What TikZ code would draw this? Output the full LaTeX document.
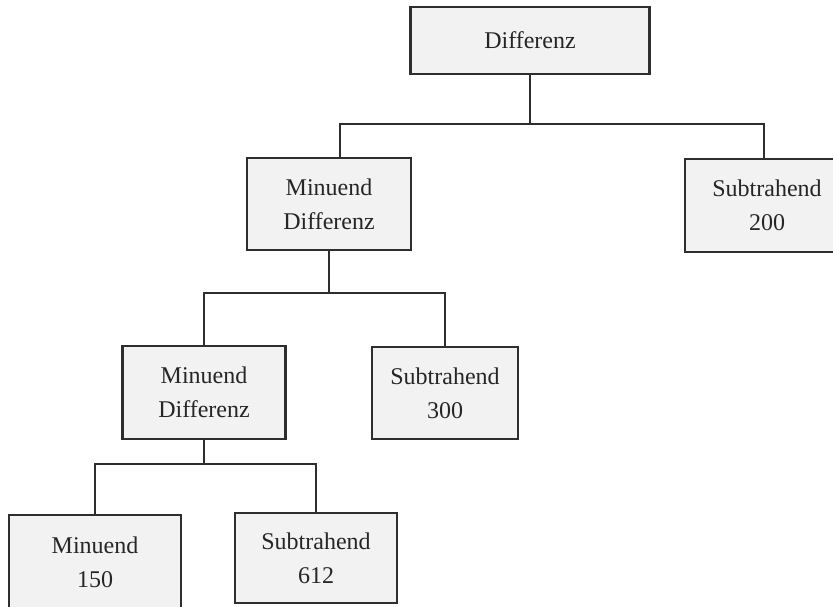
\documentclass[tikz,border=0pt]{standalone}
\usepackage{fontspec}
\setmainfont{Liberation Serif}
\begin{document}
\begin{tikzpicture}[x=0.75pt,y=-0.75pt,
  box/.style={draw=black!82, line width=1.6pt, fill=black!5, align=center,
    inner sep=0pt, text=black!85, font=\fontsize{18}{25.5}\selectfont},
  conn/.style={draw=black!82, line width=1.6pt}]
\useasboundingbox (0,0) rectangle (833,607);
\clip (0,0) rectangle (833,607);

% tree nodes
\node[box, minimum width=179.25pt, minimum height=50.25pt] (A) at (530,40.5) {Differenz};
\node[box, minimum width=123pt, minimum height=69pt] (B) at (329,204) {Minuend\\Differenz};
\node[box, minimum width=123pt, minimum height=69.75pt] (C) at (767,205.5) {Subtrahend\\200};
\node[box, minimum width=122.25pt, minimum height=69.75pt] (D) at (204,392.5) {Minuend\\Differenz};
\node[box, minimum width=109.5pt, minimum height=69pt] (E) at (445,393) {Subtrahend\\300};
\node[box, minimum width=129pt, minimum height=70.5pt] (F) at (95,562) {Minuend\\150};
\node[box, minimum width=121.5pt, minimum height=67.5pt] (G) at (316,558) {Subtrahend\\612};

% connectors: one stem per parent, then a bar with drops to the children
\draw[conn] (A.south) -- ++(0,49) coordinate (ja);
\draw[conn] ([xshift=8.25pt]B.north) |- (ja) -| ([xshift=-2.25pt]C.north);
\draw[conn] (B.south) -- ++(0,42) coordinate (jb);
\draw[conn] (D.north) |- (jb) -| (E.north);
\draw[conn] (D.south) -- ++(0,24) coordinate (jd);
\draw[conn] (F.north) |- (jd) -| (G.north);
\end{tikzpicture}
\end{document}
